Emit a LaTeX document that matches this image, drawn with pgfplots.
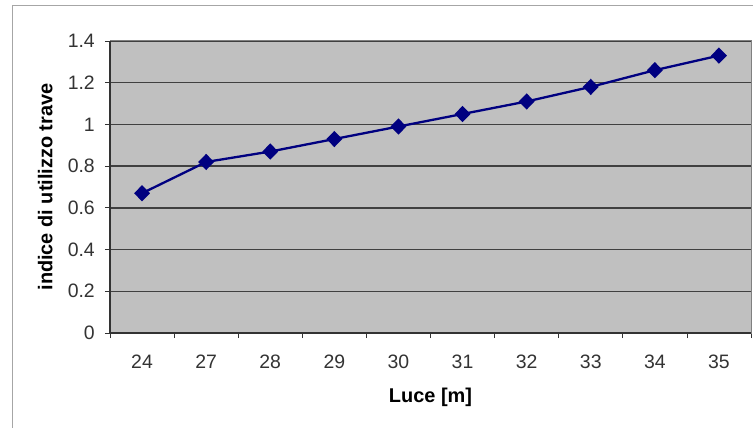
\documentclass[border=0pt]{standalone}
\usepackage{pgfplots}
\pgfplotsset{compat=1.18}
\usepackage{fontspec}
\setmainfont{Liberation Sans}
\definecolor{plotbg}{HTML}{C0C0C0}
\definecolor{navyline}{HTML}{000080}
\definecolor{gridc}{HTML}{404040}
\begin{document}
\begin{tikzpicture}
  % outer chart frame
  \draw[gray!70, line width=1bp] (12bp,-10bp) |- (770bp,422bp);
  \begin{axis}[
      at={(110bp,95bp)}, anchor=south west,
      scale only axis,
      width=641bp, height=292bp,
      xmin=-0.5, xmax=9.5,
      ymin=0, ymax=1.4,
      axis background/.style={fill=plotbg},
      axis line style={draw=gray, line width=1bp},
      xtick={0,...,9},
      xticklabels={24,27,28,29,30,31,32,33,34,35},
      major x tick style={draw=none},
      minor xtick={-0.5,0.5,...,9.5},
      minor x tick style={draw=black!80, line width=0.8bp},
      minor tick length=5bp,
      ytick={0,0.2,...,1.4},
      yticklabel style={/pgf/number format/fixed, /pgf/number format/precision=1},
      y tick style={draw=black!80, line width=0.8bp},
      major tick length=5bp,
      tick align=outside,
      xtick pos=bottom, ytick pos=left,
      ymajorgrids,
      major grid style={draw=gridc, line width=1.4bp},
      /pgf/number format/assume math mode=true,
      tick label style={font=\fontsize{19.5}{22}\selectfont, text=black!80},
      xticklabel style={anchor=base, inner sep=0pt, yshift=-30.5bp},
      yticklabel style={anchor=east, inner sep=0pt, xshift=-10bp},
      xlabel={Luce [m]},
      ylabel={indice di utilizzo trave},
      label style={font=\fontsize{20}{22}\selectfont\bfseries},
      xlabel style={at={(axis description cs:0.5,-0.219)}, anchor=center},
      ylabel style={at={(axis description cs:-0.101,0.5)}, anchor=center, rotate=0},
      clip=false,
    ]
    \addplot[navyline, line width=2.3bp, mark=diamond*, mark size=6.5bp,
             mark options={xscale=1.3, fill=navyline, draw=navyline}]
      coordinates {
        (0,0.67) (1,0.82) (2,0.87) (3,0.93) (4,0.99)
        (5,1.05) (6,1.11) (7,1.18) (8,1.26) (9,1.33)
      };
    \draw[black!80, line width=1.4bp] (rel axis cs:0,1) -- (rel axis cs:0,0) -- (rel axis cs:1,0);
  \end{axis}
  \pgfresetboundingbox
  \path[use as bounding box] (0,0) rectangle (753bp,428bp);
\end{tikzpicture}
\end{document}
